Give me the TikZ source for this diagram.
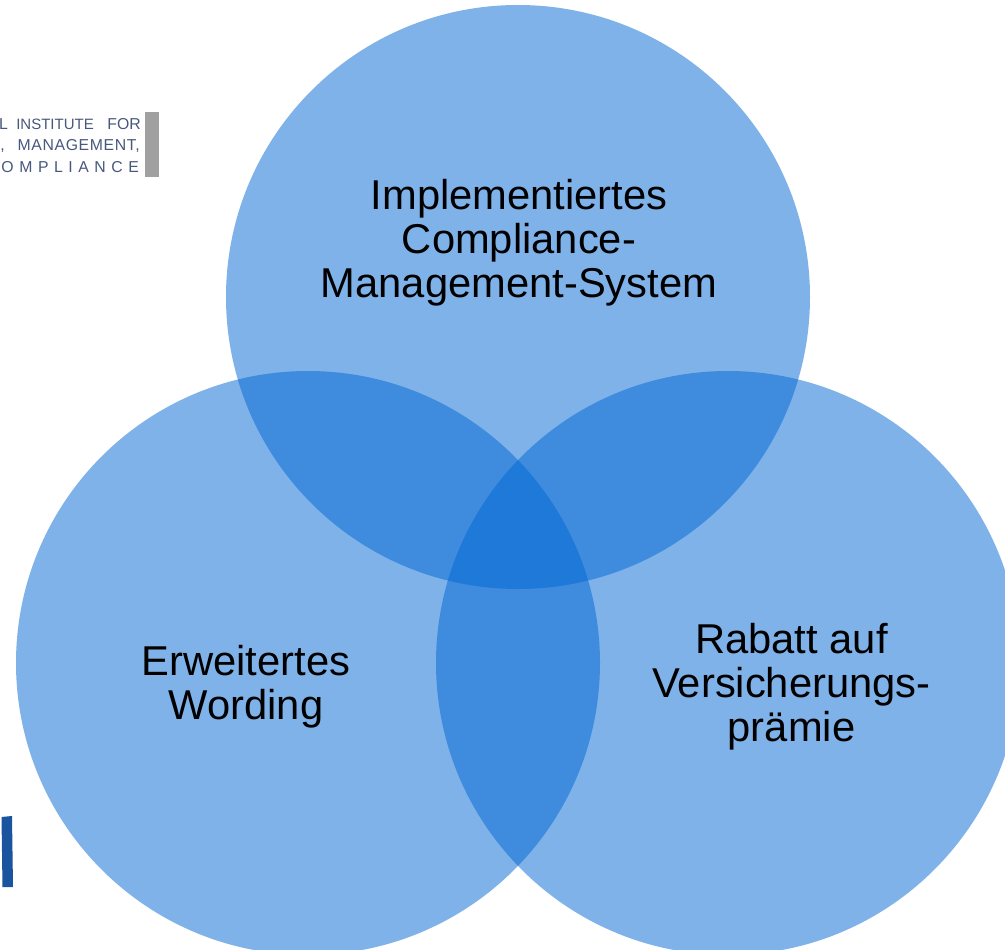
\documentclass[tikz,border=0pt]{standalone}
\usepackage{fontspec}
\setmainfont{Liberation Sans}
\newfontfamily\logofont{Liberation Sans}
\newfontfamily\logomid[LetterSpace=4]{Liberation Sans}
\newfontfamily\logowide[LetterSpace=35]{Liberation Sans}
\definecolor{circlefill}{RGB}{0,103,212}
\definecolor{logotext}{RGB}{72,88,125}
\definecolor{logobar}{RGB}{160,160,160}
\definecolor{sidebar}{RGB}{27,84,158}
\tikzset{
  venn/.style={circle,minimum size=584pt,inner sep=0pt,fill=circlefill,fill opacity=.5,text opacity=1},
  vennlabel/.style={align=center,font=\fontsize{41.7pt}{44pt}\selectfont,text=black,inner sep=0pt},
  logoword/.style={anchor=base east,inner sep=0pt,text=logotext,font=\logofont\fontsize{15.8pt}{17pt}\selectfont},
}
\begin{document}
\begin{tikzpicture}[x=1pt,y=-1pt]
\useasboundingbox (0,0) rectangle (1005,950);
\clip (0,0) rectangle (1005,950);
\fill[white] (0,0) rectangle (1005,950);
% logo fragment
\node[logoword] (w1) at (141,129) {FOR};
\node[logoword,font=\logofont\fontsize{15pt}{17pt}\selectfont] (w2) at (94,129) {INSTITUTE};
\node[logoword] (w3) at (8,129) {AL};
\node[logoword,font=\logomid\fontsize{15.8pt}{17pt}\selectfont] (w4) at (140,150) {MANAGEMENT,};
\node[logoword] (w5) at (5,150) {,};
\node[logoword,font=\logowide\fontsize{15.8pt}{17pt}\selectfont] (w6) at (139,172) {OMPLIANCE};
\fill[logobar] (145,112) rectangle (159,177);
% side bar
\fill[sidebar] (1.5,817) -- (12,816) -- (13,887) -- (2.5,887) -- cycle;
% circles
\node[venn] (top) at (518,297) {};
\node[venn] (left) at (308,663) {};
\node[venn] (right) at (728,663) {};
% labels
\node[vennlabel] (ltop) at (519,243) {Implementiertes\\Compliance-\\Management-System};
\node[vennlabel] (lleft) at (246,686.5) {Erweitertes\\Wording};
\node[vennlabel] (lright) at (791.5,686.5) {Rabatt auf\\Versicherungs-\\prämie};
\end{tikzpicture}
\end{document}
